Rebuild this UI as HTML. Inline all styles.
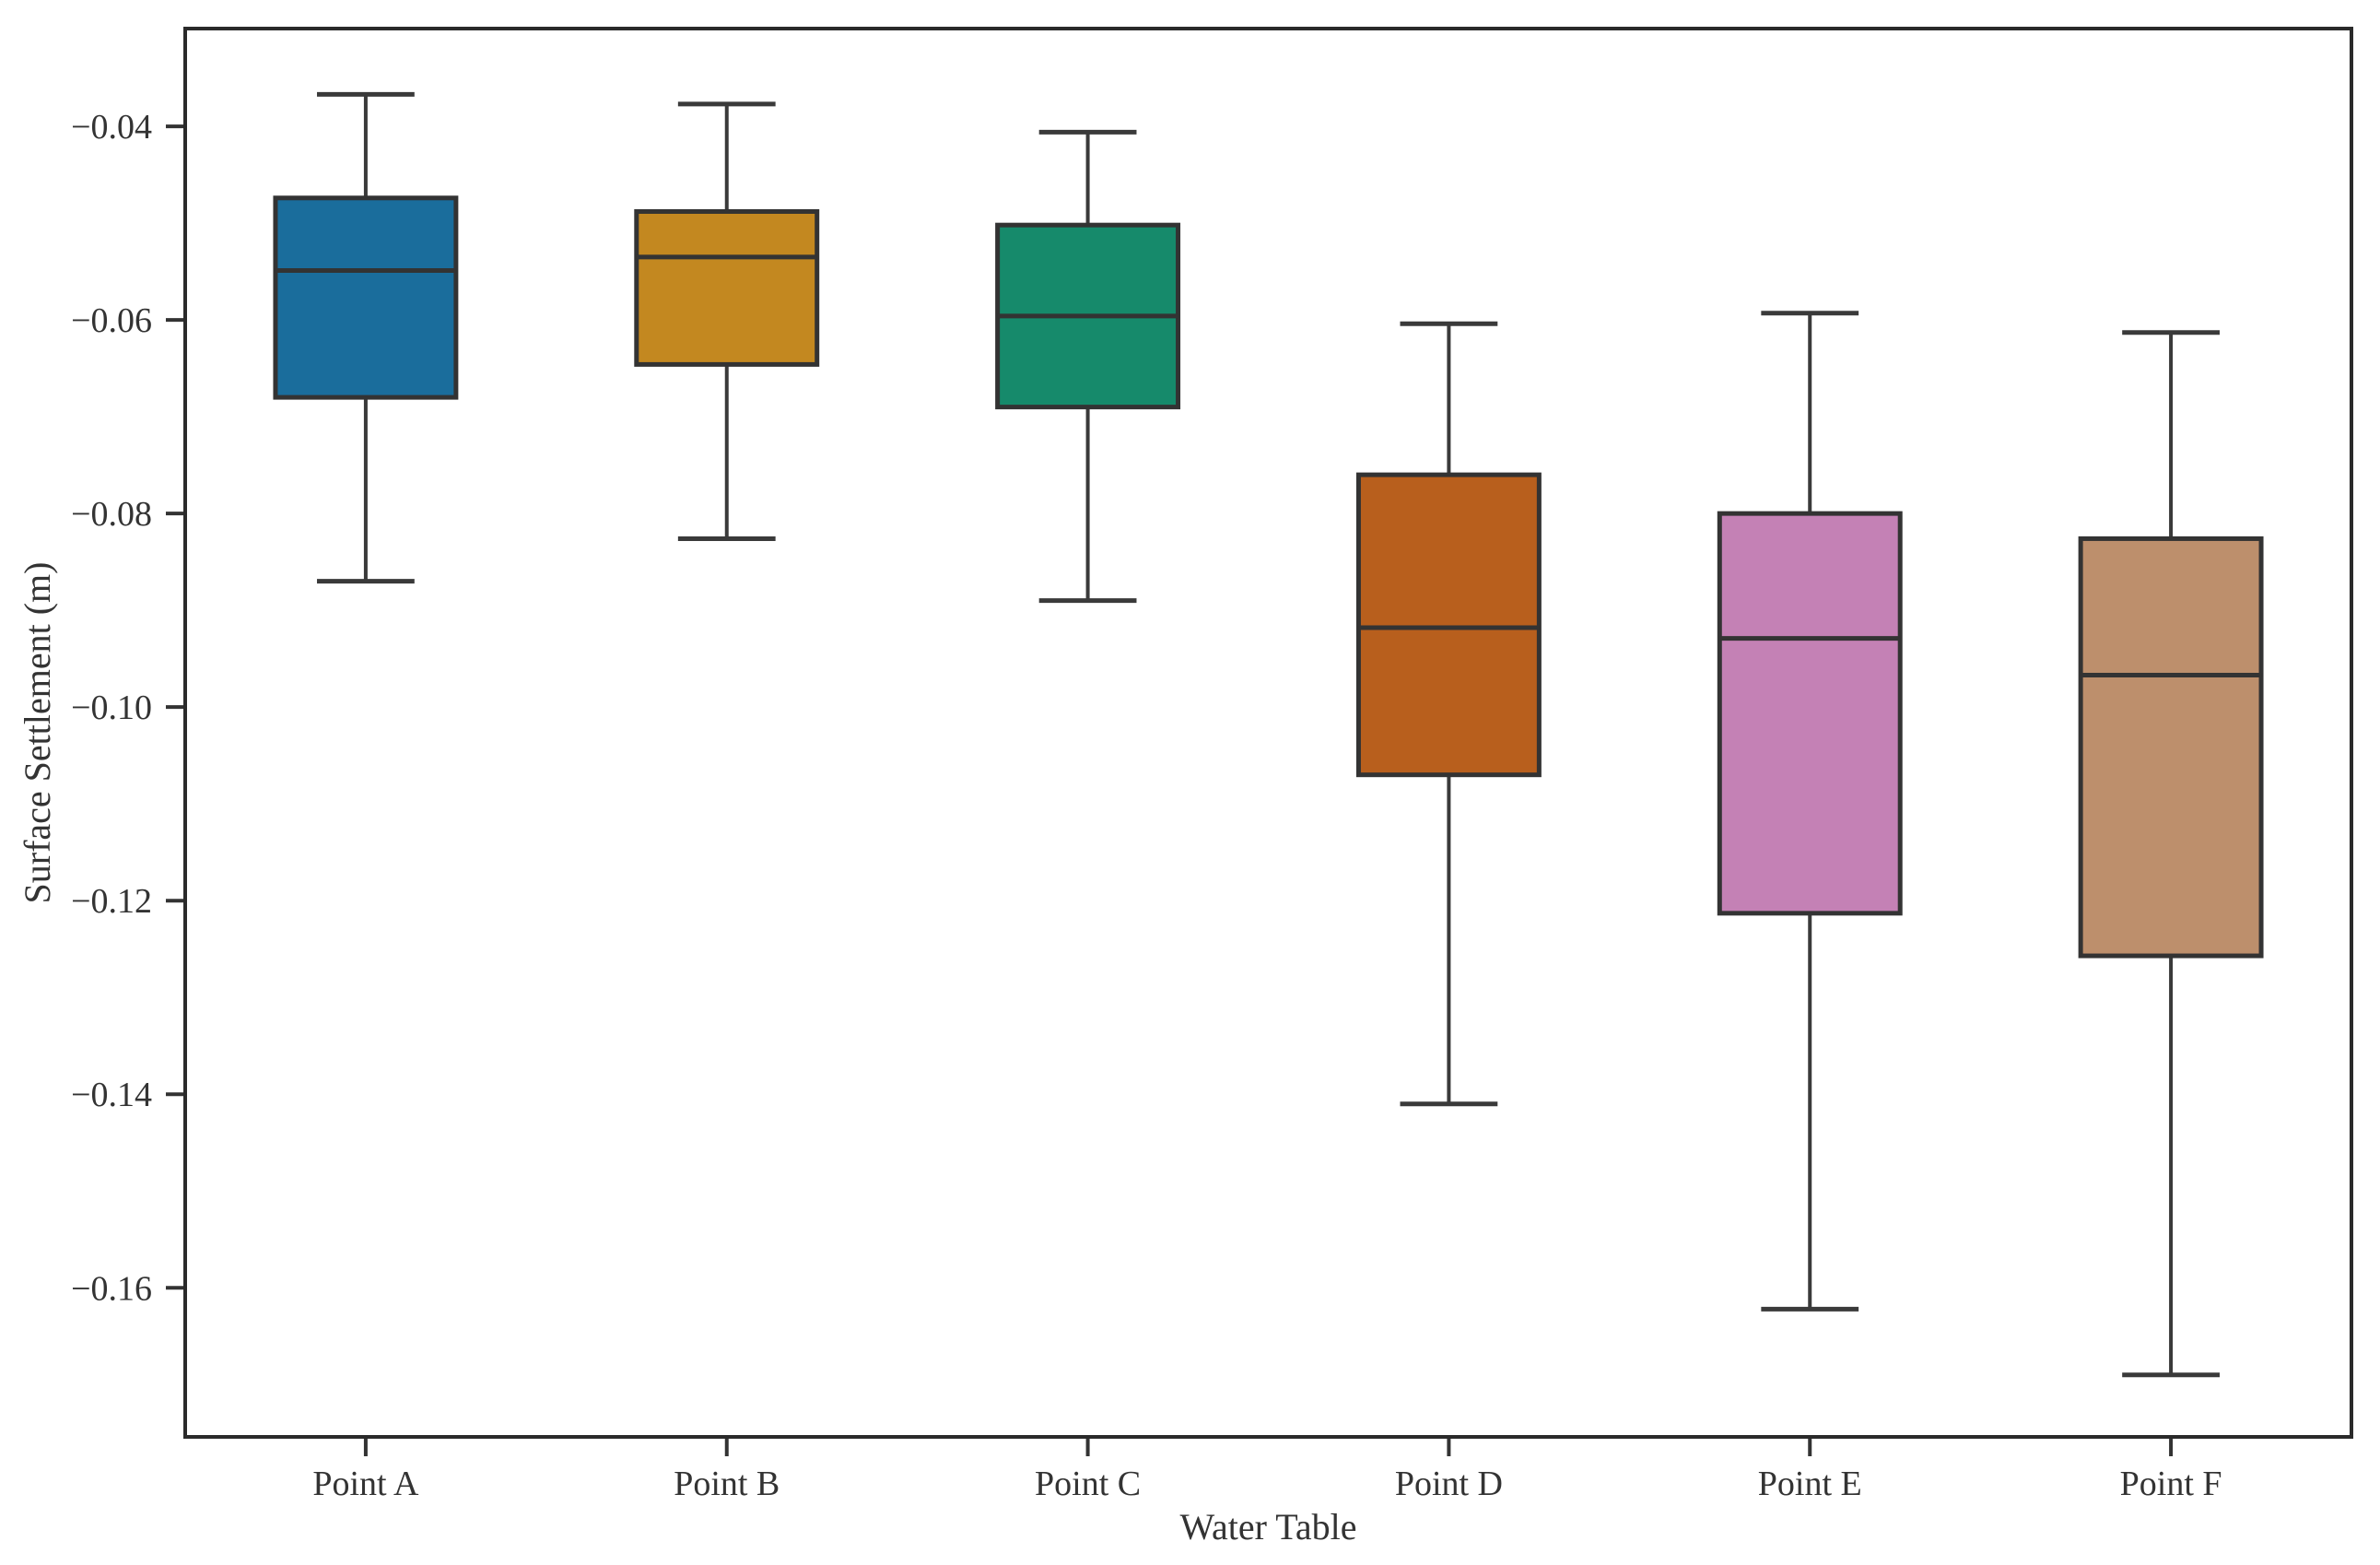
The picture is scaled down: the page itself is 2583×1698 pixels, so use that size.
<!DOCTYPE html>
<html><head><meta charset="utf-8"><style>
html,body{margin:0;padding:0;background:#fff;}
svg text{font-family:"Liberation Serif",serif;fill:#333;}
</style></head><body>
<svg id="chart" width="2583" height="1693" xmlns="http://www.w3.org/2000/svg">
<g id="plot"></g>
</svg>
<script>
const categories=["Point A","Point B","Point C","Point D","Point E","Point F"];
const whiskerHigh=[-0.0367,-0.0377,-0.0406,-0.0604,-0.0593,-0.0613];
const q3Values=[-0.0474,-0.0488,-0.0502,-0.0760,-0.0800,-0.0826];
const medianValues=[-0.0549,-0.0535,-0.0596,-0.0918,-0.0929,-0.0967];
const q1Values=[-0.0680,-0.0646,-0.0690,-0.1070,-0.1213,-0.1257];
const whiskerLow=[-0.0870,-0.0826,-0.0890,-0.1410,-0.1622,-0.1690];
const yTicks=[-0.04,-0.06,-0.08,-0.10,-0.12,-0.14,-0.16];
const colors=["#1a6d9c","#c38820","#168a6b","#b85f1d","#c481b5","#bd8f6c"];

const L=201,R=2552,T=31,B=1559;
const yMax=-0.0299,yMin=-0.1754;
function y(v){return T+(yMax-v)/(yMax-yMin)*(B-T);}
const step=(R-L)/categories.length;
function x(i){return L+step*(i+0.5);}
const NS="http://www.w3.org/2000/svg";
const g=document.getElementById('plot');
function mk(tag,attrs,parent){const e=document.createElementNS(NS,tag);for(const k in attrs)e.setAttribute(k,attrs[k]);(parent||g).appendChild(e);return e;}

yTicks.forEach((t,i)=>{
  const yy=y(t);
  const tk=mk('line',{x1:L-21,x2:L,y1:yy,y2:yy,stroke:'#333','stroke-width':4});
  
  
  const tx=mk('text',{x:L-36,y:yy+13,'font-size':38,'text-anchor':'end'});
  tx.textContent='\u2212'+Math.abs(t).toFixed(2);
  
  
});

categories.forEach((c,i)=>{
  const cx=x(i),hw=step*0.25,cap=step*0.135;
  const grp=mk('g',{});
  
  
  mk('line',{x1:cx,x2:cx,y1:y(whiskerHigh[i]),y2:y(q3Values[i]),stroke:'#3a3a3a','stroke-width':4},grp);
  mk('line',{x1:cx,x2:cx,y1:y(q1Values[i]),y2:y(whiskerLow[i]),stroke:'#3a3a3a','stroke-width':4},grp);
  mk('line',{x1:cx-cap,x2:cx+cap,y1:y(whiskerHigh[i]),y2:y(whiskerHigh[i]),stroke:'#3a3a3a','stroke-width':5},grp);
  mk('line',{x1:cx-cap,x2:cx+cap,y1:y(whiskerLow[i]),y2:y(whiskerLow[i]),stroke:'#3a3a3a','stroke-width':5},grp);
  mk('rect',{x:cx-hw,y:y(q3Values[i]),width:2*hw,height:y(q1Values[i])-y(q3Values[i]),fill:colors[i],stroke:'#333','stroke-width':5},grp);
  mk('line',{x1:cx-hw,x2:cx+hw,y1:y(medianValues[i]),y2:y(medianValues[i]),stroke:'#333','stroke-width':5},grp);
  const tk=mk('line',{x1:cx,x2:cx,y1:B,y2:B+21,stroke:'#333','stroke-width':4});
  
  
  const tx=mk('text',{x:cx,y:1622,'font-size':38,'text-anchor':'middle'});
  tx.textContent=c;
  
  
});

const frame=mk('rect',{x:L,y:T,width:R-L,height:B-T,fill:'none',stroke:'#2a2a2a','stroke-width':4});


const xt=mk('text',{x:(L+R)/2,y:1670,'font-size':40,'text-anchor':'middle'});
xt.textContent='Water Table';


const yt=mk('text',{x:0,y:0,'font-size':40,'text-anchor':'middle',transform:'translate(54,'+((T+B)/2)+') rotate(-90)'});
yt.textContent='Surface Settlement (m)';


</script>
</body></html>
